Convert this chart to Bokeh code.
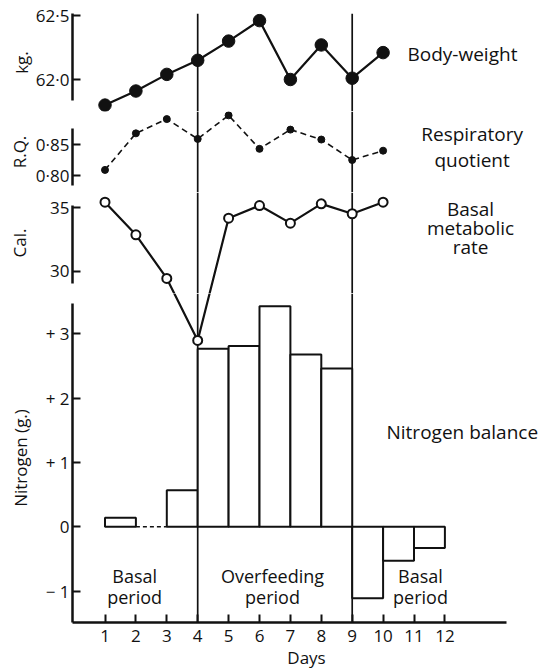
from bokeh.plotting import figure
from bokeh.layouts import column
from bokeh.models import Range1d, LinearAxis, Span, Label, FixedTicker, Grid, ColumnDataSource
from bokeh.embed import file_html
from bokeh.resources import INLINE

# ---------------- data ----------------
days = [1, 2, 3, 4, 5, 6, 7, 8, 9, 10]
body_weight = [61.80, 61.91, 62.04, 62.15, 62.30, 62.46, 62.00, 62.27, 62.01, 62.21]
resp_quotient = [0.809, 0.868, 0.891, 0.859, 0.897, 0.843, 0.874, 0.858, 0.825, 0.840]
basal_metabolic = [35.44, 32.87, 29.43, 24.53, 34.18, 35.18, 33.79, 35.31, 34.53, 35.44]

nitrogen_days = [1, 2, 3, 4, 5, 6, 7, 8, 9, 10, 11]          # start day of each interval
nitrogen_balance = [0.14, None, 0.57, 2.77, 2.81, 3.43, 2.68, 2.46, -1.11, -0.53, -0.33]

period_bounds = [4, 9]
period_names = [["Basal", "period"], ["Overfeeding", "period"], ["Basal", "period"]]

day_ticks = [1, 2, 3, 4, 5, 6, 7, 8, 9, 10, 11, 12]
bw_ticks = [62.0, 62.5]
bw_tick_labels = ["62·0", "62·5"]
rq_ticks = [0.80, 0.85]
rq_tick_labels = ["0·80", "0·85"]
cal_ticks = [30, 35]
cal_tick_labels = ["30", "35"]
n_ticks = [-1, 0, 1, 2, 3]
n_tick_labels = ["− 1", "0", "+ 1", "+ 2", "+ 3"]

series_names = {"bw": ["Body-weight"], "rq": ["Respiratory", "quotient"],
                "cal": ["Basal", "metabolic", "rate"], "n": ["Nitrogen balance"]}

# ---------------- layout / style ----------------
FONT = "Open Sans"
FS = "17px"
FS_NAME = "19px"
FS_PERIOD = "18px"
INK = "#111111"
FIG_W = 540
BORDER_L = 72
DAY1_PX, DAY_PX = 104.5, 30.9          # page px of day 1, px per day


def day_at(px):
    return 1 + (px - DAY1_PX) / DAY_PX


x_range = Range1d(day_at(BORDER_L), day_at(FIG_W))

# page-y extents of each panel's frame, and each series' vertical scale
panels = {"bw": (13, 111), "rq": (111, 192), "cal": (192, 293), "n": (293, 623)}
scales = {"bw": (62.0, 79.0, 128.0), "rq": (0.80, 175.0, 620.0),
          "cal": (30.0, 270.7, 12.68), "n": (0.0, 527.0, 64.5)}
border_top = {"bw": 13, "rq": 0, "cal": 0, "n": 0}
border_bottom = {"bw": 0, "rq": 0, "cal": 0, "n": 48}
fig_heights = {k: panels[k][1] - panels[k][0] + border_top[k] + border_bottom[k] for k in panels}
spine_px = {"bw": (13, 100), "rq": (128, 185), "cal": (205, 283), "n": (303, None)}
label_standoff = {"bw": 0, "rq": 2, "cal": 16, "n": 11}


def val_at(s, py):
    v0, y0, k = scales[s]
    return v0 + (y0 - py) / k


def make_range(s, p):
    top, bot = panels[p]
    return Range1d(val_at(s, bot), val_at(s, top))


axis_info = {
    "bw": ("kg.", bw_ticks, bw_tick_labels),
    "rq": ("R.Q.", rq_ticks, rq_tick_labels),
    "cal": ("Cal.", cal_ticks, cal_tick_labels),
    "n": ("Nitrogen (g.)", n_ticks, n_tick_labels),
}

pt_src = ColumnDataSource(dict(day=days, bw=body_weight, rq=resp_quotient, cal=basal_metabolic))

figs = []
for key in ["bw", "rq", "cal", "n"]:
    p = figure(width=FIG_W, height=fig_heights[key], x_range=x_range,
               y_range=make_range(key, key),
               output_backend="svg", toolbar_location=None,
               x_axis_location=None, y_axis_location=None,
               min_border_left=BORDER_L, min_border_right=0,
               min_border_top=border_top[key], min_border_bottom=border_bottom[key],
               outline_line_color=None, background_fill_color="white",
               border_fill_color="white")
    p.center = [c for c in p.center if not isinstance(c, Grid)]
    p.extra_y_ranges = {s: make_range(s, key) for s in scales}

    # period boundaries
    for b in period_bounds:
        p.add_layout(Span(location=b, dimension="height", line_color=INK,
                          line_width=1.7, level="underlay"))

    # nitrogen balance bars
    if key == "n":
        bl, br, bt = [], [], []
        dl, dr = [], []
        for d, v in zip(nitrogen_days, nitrogen_balance):
            if v is None:
                dl.append(d); dr.append(d + 1)
            else:
                bl.append(d); br.append(d + 1); bt.append(v)
        p.quad(left=bl, right=br, bottom=0, top=bt, fill_color="white",
               line_color=INK, line_width=2, y_range_name="n")
        p.segment(x0=dl, x1=dr, y0=0, y1=0, line_color=INK, line_width=1.6,
                  line_dash="4 3", y_range_name="n")

    # basal metabolic rate (open circles)
    p.line("day", "cal", source=pt_src, line_color=INK, line_width=2.2, y_range_name="cal")
    p.scatter("day", "cal", source=pt_src, marker="circle", size=9, fill_color="white",
              line_color=INK, line_width=2, y_range_name="cal")
    # respiratory quotient (dashed, small dots)
    p.line("day", "rq", source=pt_src, line_color=INK, line_width=1.6, line_dash="6 4",
           y_range_name="rq")
    p.scatter("day", "rq", source=pt_src, marker="circle", size=7, fill_color=INK,
              line_color=INK, y_range_name="rq")
    # body weight (big dots)
    p.line("day", "bw", source=pt_src, line_color=INK, line_width=2.2, y_range_name="bw")
    p.scatter("day", "bw", source=pt_src, marker="circle", size=12.5, fill_color=INK,
              line_color=INK, y_range_name="bw")

    # left axis of the panel
    title, ticks, labels = axis_info[key]
    s_top, s_bot = spine_px[key]
    lo = val_at(key, s_bot) if s_bot is not None else make_range(key, key).start
    hi = val_at(key, s_top)
    ax = LinearAxis(y_range_name=key, ticker=FixedTicker(ticks=ticks),
                    major_label_overrides=dict(zip(ticks, labels)),
                    axis_label=title, bounds=(lo, hi),
                    axis_line_color=INK, axis_line_width=2.5,
                    major_tick_line_color=INK, major_tick_line_width=2,
                    major_tick_in=8, major_tick_out=0, minor_tick_line_color=None,
                    major_label_standoff=3,
                    major_label_text_font=FONT, major_label_text_font_size=FS,
                    major_label_text_color=INK,
                    axis_label_text_font=FONT, axis_label_text_font_size=FS,
                    axis_label_text_font_style="normal", axis_label_text_color=INK,
                    axis_label_standoff=label_standoff[key])
    p.add_layout(ax, "left")
    figs.append(p)

f_bw, f_rq, f_cal, f_n = figs

# bottom axis (days)
xax = LinearAxis(ticker=FixedTicker(ticks=day_ticks), axis_label="Days",
                 bounds=(x_range.start, 14.0),
                 axis_line_color=INK, axis_line_width=2.5,
                 major_tick_line_color=INK, major_tick_line_width=2,
                 major_tick_in=8, major_tick_out=0, minor_tick_line_color=None,
                 major_label_standoff=7,
                 major_label_text_font=FONT, major_label_text_font_size=FS,
                 major_label_text_color=INK,
                 axis_label_text_font=FONT, axis_label_text_font_size=FS,
                 axis_label_text_font_style="normal", axis_label_text_color=INK,
                 axis_label_standoff=1)
f_n.add_layout(xax, "below")


def add_text(p, x, y, rng, text, align, size):
    p.add_layout(Label(x=x, y=y, y_range_name=rng, text=text, text_font=FONT,
                       text_font_size=size, text_color=INK, text_align=align,
                       text_baseline="middle"))


# series names on the right
add_text(f_bw, 10.79, 62.203, "bw", series_names["bw"][0], "left", FS_NAME)
for txt, yv in zip(series_names["rq"], [0.8677, 0.8242]):
    add_text(f_rq, 12.88, yv, "rq", txt, "center", FS_NAME)
for txt, yv in zip(series_names["cal"], [34.94, 33.37, 31.87]):
    add_text(f_cal, 12.83, yv, "cal", txt, "center", FS_NAME)
add_text(f_n, 10.11, 1.47, "n", series_names["n"][0], "left", FS_NAME)

# period names
period_centers = [1.96, 6.42, 11.21]
for (l1, l2), cx in zip(period_names, period_centers):
    add_text(f_n, cx, -0.77, "n", l1, "center", FS_PERIOD)
    add_text(f_n, cx, -1.085, "n", l2, "center", FS_PERIOD)

layout = column(*figs, spacing=0)
open("out.html", "w").write(file_html(layout, INLINE))
